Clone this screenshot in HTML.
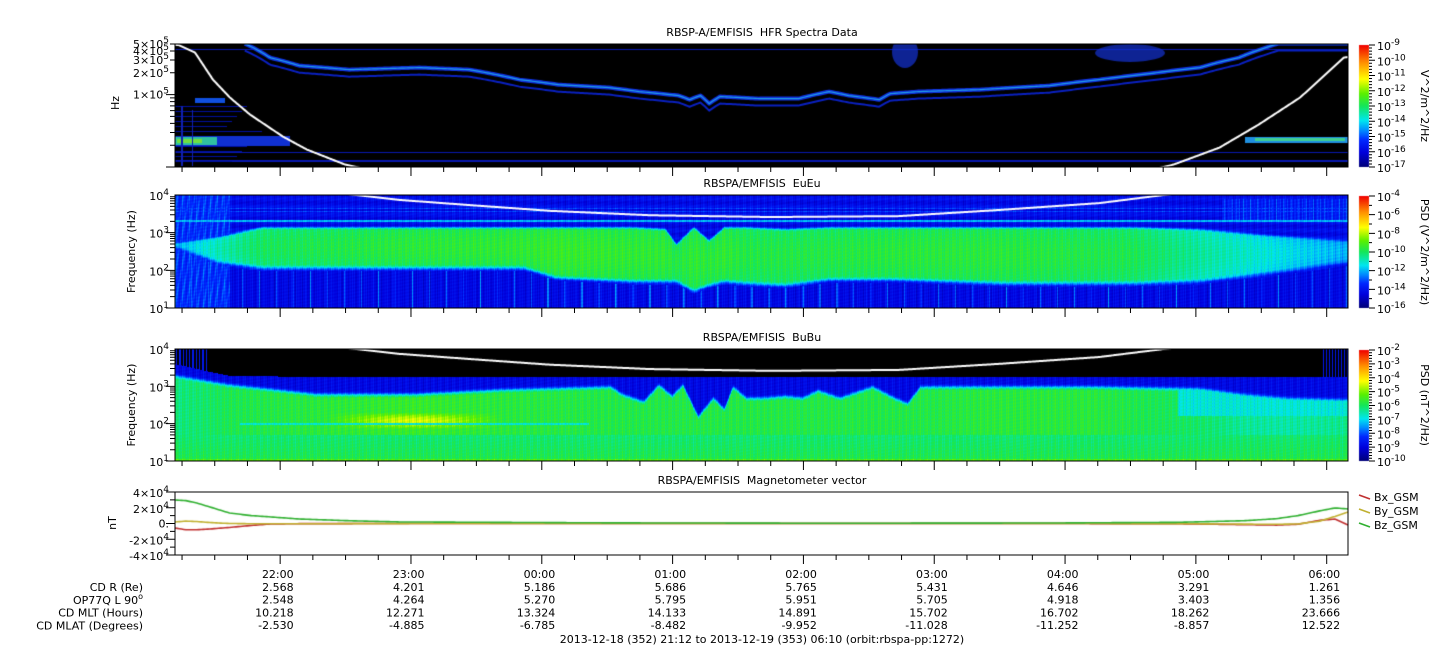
<!DOCTYPE html>
<html><head><meta charset="utf-8">
<style>
html,body{margin:0;padding:0;background:#fff;}
#wrap{position:relative;width:1447px;height:658px;overflow:hidden;font-family:"DejaVu Sans","Liberation Sans",sans-serif;}
canvas,svg{position:absolute;left:0;top:0;}
text{font-family:"DejaVu Sans","Liberation Sans",sans-serif;font-size:11px;fill:#000;white-space:pre;}
</style></head>
<body>
<div id="wrap">
<canvas id="cv" width="1447" height="658"></canvas>
<svg id="sv" width="1447" height="658" xmlns="http://www.w3.org/2000/svg"></svg>
</div>
<script>
// ---------- data ----------
const hourLabels=["22:00","23:00","00:00","01:00","02:00","03:00","04:00","05:00","06:00"];
const rowNames=["CD R (Re)","OP77Q L 90","CD MLT (Hours)","CD MLAT (Degrees)"];
const cdR=["2.568","4.201","5.186","5.686","5.765","5.431","4.646","3.291","1.261"];
const opL=["2.548","4.264","5.270","5.795","5.951","5.705","4.918","3.403","1.356"];
const cdMLT=["10.218","12.271","13.324","14.133","14.891","15.702","16.702","18.262","23.666"];
const cdMLAT=["-2.530","-4.885","-6.785","-8.482","-9.952","-11.028","-11.252","-8.857","12.522"];
// upper hybrid line (HFR): minutes since 21:12, kHz
const uhrT=[32,43.5,57,80,112,135,158,176,199,213,231,236,241,245,250,268,286,300,309,323,328,341,369,401,424,447,470,488,499,506,540];
const uhrF=[506,324,251,221,236,221,161,137,125,110,97,85,97,75,94,88,88,110,97,85,103,110,117,133,161,195,236,324,432,506,506];
// electron cyclotron frequency curve: minutes, Hz
const fceT=[0,2,9.2,17.4,25.2,34.4,49.5,60.5,78,103,135,172,218,273,332,378,424,458,479,497,516,525,536,538];
const fceF=[4.9e5,4.8e5,3.8e5,1.61e5,9.1e4,5.3e4,2.63e4,1.74e4,1.08e4,7.4e3,5.4e3,3.8e3,2.9e3,2.6e3,2.75e3,4e3,6.1e3,1.08e4,1.85e4,3.85e4,9.1e4,1.6e5,3.24e5,3.3e5];
// EuEu band edges (log10 Hz)
const euT=[0,20,40,100,160,175,210,225,230,238,245,252,262,280,300,330,380,440,470,500,538];
const euUp=[2.75,2.9,3.15,3.15,3.15,3.15,3.15,3.1,2.7,3.15,2.8,3.15,3.15,3.1,3.15,3.15,3.15,3.15,3.1,2.95,2.8];
const euLo=[2.6,2.2,2.06,2.06,2.06,1.8,1.7,1.7,1.7,1.45,1.6,1.7,1.65,1.6,1.75,1.75,1.65,1.65,1.7,1.9,2.2];
const euLev=[0.30,0.40,0.47,0.50,0.51,0.52,0.51,0.51,0.49,0.51,0.50,0.51,0.49,0.49,0.49,0.50,0.50,0.48,0.42,0.37,0.30];
// BuBu edges (log10 Hz)
const buT=[0,15,25,65,110,150,200,205,215,222,228,233,240,247,252,256,262,270,280,288,295,305,315,320,330,336,342,348,370,420,470,490,510,538];
const buTop=[3.6,3.4,3.28,3.25,3.25,3.25,3.25,3.25,3.25,3.25,3.25,3.25,3.25,3.25,3.25,3.25,3.25,3.25,3.25,3.25,3.25,3.25,3.25,3.25,3.25,3.25,3.25,3.25,3.25,3.25,3.25,3.25,3.25,3.25];
const buUp=[3.3,3.15,3.05,2.8,2.8,2.92,3.0,2.8,2.6,3.05,2.75,3.05,2.2,2.7,2.4,3.0,2.7,2.7,2.75,2.7,2.9,2.7,2.9,3.0,2.7,2.55,3.0,3.0,3.0,3.0,2.95,2.8,2.7,2.65];
const buLev=[0.47,0.49,0.51,0.53,0.55,0.53,0.52,0.52,0.52,0.52,0.52,0.52,0.52,0.52,0.52,0.52,0.52,0.52,0.52,0.52,0.52,0.52,0.52,0.52,0.52,0.52,0.52,0.52,0.53,0.53,0.49,0.45,0.44,0.46];
// magnetometer (nT)
const magT=[0,5,10,16,25,35,44,57,80,103,200,300,400,460,490,505,515,525,532,538];
const bx=[-5700,-8000,-8000,-7000,-5000,-2500,-600,-200,-100,0,0,0,0,-300,-1500,-2000,-1000,4000,5700,-2000];
const by=[2000,3000,2500,1200,0,-300,-400,-300,-200,-100,0,0,0,-200,-800,-1000,-600,3000,9000,14600];
const bz=[29800,29000,26000,21000,13300,10000,8300,5700,3500,2000,800,300,600,1500,3500,6000,10000,16000,19700,18500];
const cbar1=[-9,-10,-11,-12,-13,-14,-15,-16,-17];
const cbar2=[-4,-6,-8,-10,-12,-14,-16];
const cbar3=[-2,-3,-4,-5,-6,-7,-8,-9,-10];

// ---------- geometry ----------
const X0=175,X1=1348,TMAX=538;
const xs=t=>X0+t*(X1-X0)/TMAX;
const P1={y0:44,y1:167,l0:4,l1:Math.log10(5e5)};
const P2={y0:195,y1:308,l0:1,l1:4};
const P3={y0:349,y1:461,l0:1,l1:4};
const P4={y0:492,y1:555,v0:-4e4,v1:4e4};
const ysLog=(P,f)=>P.y1-(Math.log10(f)-P.l0)/(P.l1-P.l0)*(P.y1-P.y0);
const lfOf=(P,y)=>P.l0+(P.y1-y)/(P.y1-P.y0)*(P.l1-P.l0);
const ysMag=v=>P4.y1-(v-P4.v0)/(P4.v1-P4.v0)*(P4.y1-P4.y0);
function interp(T,V,t){if(t<=T[0])return V[0];for(let i=1;i<T.length;i++){if(t<=T[i]){const a=(t-T[i-1])/(T[i]-T[i-1]);return V[i-1]+a*(V[i]-V[i-1]);}}return V[V.length-1];}
function interpLog(T,V,t){return Math.pow(10,interp(T,V.map(v=>Math.log10(v)),t));}
const tOf=x=>(x-X0)*TMAX/(X1-X0);

const stops=[[0,0,0,120],[0.12,0,0,220],[0.22,0,40,255],[0.3,0,140,255],[0.38,0,230,240],[0.5,20,230,90],[0.6,90,240,0],[0.72,255,255,0],[0.86,255,140,0],[1,240,0,0]];
function cmap(v){if(v<0)return[0,0,0];v=Math.max(0,Math.min(1,v));for(let i=1;i<stops.length;i++){if(v<=stops[i][0]){const a=(v-stops[i-1][0])/(stops[i][0]-stops[i-1][0]);return[0,1,2].map(k=>Math.round(stops[i-1][k+1]+a*(stops[i][k+1]-stops[i-1][k+1])));}}return[240,0,0];}
const tex=(x,y)=>0.025*Math.sin(x*2.7)+0.02*Math.sin(x*0.93+1)+0.012*Math.sin(y*1.9+x*0.3);

const cv=document.getElementById('cv');const ctx=cv.getContext('2d');
function heat(P,fn){const w=X1-X0,h=P.y1-P.y0;const img=ctx.createImageData(w,h);for(let x=0;x<w;x++){const t=tOf(X0+x+0.5);for(let y=0;y<h;y++){const lf=lfOf(P,P.y0+y+0.5);const c=cmap(fn(t,lf,X0+x,P.y0+y));const i=(y*w+x)*4;img.data[i]=c[0];img.data[i+1]=c[1];img.data[i+2]=c[2];img.data[i+3]=255;}}ctx.putImageData(img,X0,P.y0);}
const sm=(e0,e1,v)=>{const a=Math.max(0,Math.min(1,(v-e0)/(e1-e0)));return a*a*(3-2*a);};

// Panel 2 EuEu
heat(P2,(t,lf,x,y)=>{const up=interp(euT,euUp,t),lo=interp(euT,euLo,t),lev=interp(euT,euLev,t);
 let v=0.15+0.02*Math.sin(y*0.8);
 if(Math.abs(lf-3.3)<0.03)v=0.34;
 if(Math.abs(lf-3.55)<0.012||Math.abs(lf-3.65)<0.012)v=0.24;
 const inB=sm(lo-0.1,lo+0.1,lf)*(1-sm(up-0.08,up+0.05,lf));
 const core=lev+0.03*Math.sin((lf-lo)/(up-lo+0.01)*Math.PI);
 v=v*(1-inB)+core*inB;
 if(lf<lo-0.08)v=0.13+0.03*Math.max(0,Math.sin(x*1.3))+(Math.sin(x*0.37)>0.97?0.12:0);
 if(t<25)v=Math.max(v,0.2+0.06*Math.max(0,Math.sin(x*1.1+y*0.2)));
 if(t>480&&lf>3.3&&lf<3.9)v=Math.max(v,0.17+0.08*Math.max(0,Math.sin(x*1.7)));
 return v+tex(x,y);});
// Panel 3 BuBu
heat(P3,(t,lf,x,y)=>{const top=interp(buT,buTop,t),up=interp(buT,buUp,t),lev=interp(buT,buLev,t);
 if(lf>top){if(t<15&&Math.sin(x*1.9)>0.3)return 0.18;if(t>490&&Math.sin(x*2.1)>0.9)return 0.17;return -1;}
 let v;const b=sm(up-0.12,up+0.08,lf);
 v=lev*(1-b)+0.14*b;
 if(lf<up-0.1){ if(t>70&&t<150&&lf>1.85&&lf<2.3)v+=0.14*Math.sin((lf-1.85)/0.45*Math.PI)*Math.sin((t-70)/80*Math.PI);
   if(t>30&&t<190&&Math.abs(lf-2.0)<0.03)v=0.4;
   if(lf<1.7)v=0.48+0.05*(1.7-lf);
   if(lf<1.06)v=0.58;}
 if(t>460&&lf>2.2&&lf<up)v=Math.min(v,0.4+0.1*sm(2.2,2.0,lf));
 return v+tex(x,y);});
// Panel 1 HFR
ctx.fillStyle='#000';ctx.fillRect(X0,P1.y0,X1-X0,P1.y1-P1.y0);
ctx.save();ctx.beginPath();ctx.rect(X0,P1.y0,X1-X0,P1.y1-P1.y0);ctx.clip();
ctx.fillStyle='#0818b0';ctx.fillRect(X0,49,X1-X0,1);ctx.fillRect(X0,152,X1-X0,1);ctx.fillRect(X0,160,X1-X0,2);
ctx.fillStyle='#0010a0';for(let y=106;y<165;y+=5){ctx.fillRect(X0,y,50+((y*7)%40),1);}
ctx.fillStyle='#1030d0';ctx.fillRect(X0,136,115,10);ctx.fillStyle='#30c0a0';ctx.fillRect(X0,137,42,8);ctx.fillStyle='#70e040';ctx.fillRect(X0+2,139,25,4);
ctx.fillStyle='#1050e0';ctx.fillRect(X0+20,98,30,5);ctx.fillStyle='#2090e0';ctx.fillRect(1245,137,103,6);ctx.fillStyle='#40d090';ctx.fillRect(1255,138,90,3);
ctx.fillStyle='#1020b0';ctx.fillRect(X0+6,106,2,60);ctx.fillRect(X0+17,110,1,56);
function uhrPath(dy){ctx.beginPath();for(let t=uhrT[0];t<=TMAX;t+=1){const x=xs(t),y=ysLog(P1,interp(uhrT,uhrF,t)*1000)+dy;t===uhrT[0]?ctx.moveTo(x,y):ctx.lineTo(x,y);}ctx.stroke();}
ctx.lineJoin='round';
ctx.strokeStyle='#0a20c0';ctx.lineWidth=2;uhrPath(7);
ctx.strokeStyle='#1030e0';ctx.lineWidth=4;uhrPath(0);
ctx.strokeStyle='#20a0e0';ctx.lineWidth=1.2;uhrPath(0);
ctx.fillStyle='rgba(20,50,210,0.7)';ctx.beginPath();ctx.ellipse(905,52,13,16,0,0,Math.PI*2);ctx.fill();ctx.beginPath();ctx.ellipse(1130,53,35,9,0,0,Math.PI*2);ctx.fill();
ctx.restore();
// fce curve in panels 1-3
function fcePath(P){ctx.save();ctx.beginPath();ctx.rect(X0,P.y0,X1-X0,P.y1-P.y0);ctx.clip();ctx.strokeStyle='#fff';ctx.lineWidth=2;ctx.beginPath();for(let t=0;t<=TMAX;t+=0.5){const x=xs(t),y=ysLog(P,interpLog(fceT,fceF,t));t===0?ctx.moveTo(x,y):ctx.lineTo(x,y);}ctx.stroke();ctx.restore();}
fcePath(P1);fcePath(P2);fcePath(P3);
// colorbars
function cbar(y0,y1){const g=ctx.createLinearGradient(0,y1,0,y0);stops.forEach(s=>{const c=cmap(s[0]);g.addColorStop(s[0],`rgb(${c})`);});ctx.fillStyle=g;ctx.fillRect(1359,y0,10,y1-y0);}
cbar(45,167);cbar(196,308);cbar(350,461);
// magnetometer
function magLine(arr,col){ctx.strokeStyle=col;ctx.lineWidth=1.6;ctx.beginPath();for(let t=0;t<=TMAX;t+=1){const x=xs(t),y=ysMag(interp(magT,arr,t));t===0?ctx.moveTo(x,y):ctx.lineTo(x,y);}ctx.stroke();}
magLine(bx,'#c03030');magLine(by,'#c0b030');magLine(bz,'#30b030');

// ---------- SVG ----------
const sv=document.getElementById('sv');const NS='http://www.w3.org/2000/svg';
function el(tag,at,txt){const e=document.createElementNS(NS,tag);for(const k in at)e.setAttribute(k,at[k]);if(txt!==undefined)e.textContent=txt;sv.appendChild(e);return e;}
function txt(x,y,s,anchor,name,rot){const e=el('text',{x:x,y:y,'text-anchor':anchor||'middle'},s);if(rot)e.setAttribute('transform',`rotate(${rot} ${x} ${y})`);return e;}
function pow(x,y,mant,exp,name){const e=el('text',{x:x,y:y,'text-anchor':'end'});e.innerHTML=`${mant}<tspan dy="-5" font-size="9">${exp}</tspan>`;return e;}
function powL(x,y,exp,name){const e=el('text',{x:x,y:y,'text-anchor':'start'});e.innerHTML=`10<tspan dy="-5" font-size="9">${exp}</tspan>`;return e;}
let tickPath='';
function frame(y0,y1,name){const r=el('rect',{x:X0,y:y0,width:X1-X0,height:y1-y0,fill:'none',stroke:'#000','stroke-width':1});
 for(let m=3;m<=TMAX;m+=15){const x=xs(m)+0.5;const major=(m-48)%60===0;tickPath+=`M${x} ${y1}v${major?9:5}`;}}
frame(P1.y0,P1.y1,'hfr-panel-frame');frame(P2.y0,P2.y1,'eueu-panel-frame');frame(P3.y0,P3.y1,'bubu-panel-frame');frame(P4.y0,P4.y1,'mag-panel-frame');
function logTicks(P,minD,maxD){for(let d=minD;d<=maxD;d++){for(let k=1;k<10;k++){const f=k*Math.pow(10,d);const lf=Math.log10(f);if(lf<P.l0-1e-6||lf>P.l1+1e-6)continue;const y=ysLog(P,f);tickPath+=`M${X0} ${y}h${k===1?-9:-5}`;}}}
logTicks(P1,4,5);logTicks(P2,1,3);logTicks(P3,1,3);
for(let v=-4e4;v<=4e4;v+=1e4){tickPath+=`M${X0} ${ysMag(v)}h${v%2e4===0?-9:-5}`;}
function cbTicks(y0,y1,n,minor){for(let i=0;i<n;i++){const y=y0+(y1-y0)*i/(n-1);tickPath+=`M1369 ${y}h6`;if(i<n-1)for(let k=1;k<minor;k++){tickPath+=`M1369 ${y+(y1-y0)/(n-1)*k/minor}h3`;}}}
cbTicks(45,167,cbar1.length,5);cbTicks(196,308,cbar2.length,2);cbTicks(350,461,cbar3.length,5);
const tp=el('path',{d:tickPath,stroke:'#000','stroke-width':1,fill:'none'});
txt(762,36,'RBSP-A/EMFISIS  HFR Spectra Data','middle','hfr-title');
txt(762,187,'RBSPA/EMFISIS  EuEu','middle','eueu-title');
txt(762,341,'RBSPA/EMFISIS  BuBu','middle','bubu-title');
txt(762,484,'RBSPA/EMFISIS  Magnetometer vector','middle','mag-title');
[[5,5],[4,5],[3,5],[2,5],[1,5]].forEach(([m,e])=>{pow(169,ysLog(P1,m*1e5)+4,m+'\u00d710',e,'hfr-y-tick-label');});
txt(119,103,'Hz','middle','hfr-y-title',-90);
[P2,P3].forEach((P,i)=>{for(let d=1;d<=4;d++)pow(169,ysLog(P,Math.pow(10,d))+5,'10',d,i?'bubu-y-tick-label':'eueu-y-tick-label');txt(135,(P.y0+P.y1)/2,'Frequency (Hz)','middle',i?'bubu-y-title':'eueu-y-title',-90);});
[[4e4,'4\u00d710','4'],[2e4,'2\u00d710','4'],[-2e4,'-2\u00d710','4'],[-4e4,'-4\u00d710','4']].forEach(([v,m,e])=>pow(169,ysMag(v)+5,m,e,'mag-y-tick-label'));
txt(169,ysMag(0)+4,'0.','end','mag-y-tick-label');
txt(116,523,'nT','middle','mag-y-title',-90);
cbar1.forEach((e,i)=>powL(1377,45+122*i/(cbar1.length-1)+5,e,'hfr-colorbar-label'));
cbar2.forEach((e,i)=>powL(1377,196+112*i/(cbar2.length-1)+5,e,'eueu-colorbar-label'));
cbar3.forEach((e,i)=>powL(1377,350+111*i/(cbar3.length-1)+5,e,'bubu-colorbar-label'));
txt(1421,106,'V^2/m^2/Hz','middle','hfr-colorbar-title',90);
txt(1421,252,'PSD (V^2/m^2/Hz)','middle','eueu-colorbar-title',90);
txt(1421,405,'PSD (nT^2/Hz)','middle','bubu-colorbar-title',90);
[['Bx_GSM','#c03030'],['By_GSM','#c0b030'],['Bz_GSM','#30b030']].forEach(([n,c],i)=>{const y=499+14*i;const l=el('path',{d:`M1359 ${y-4}l11 4`,stroke:c,'stroke-width':1.6});txt(1374,y+2,n,'start','legend-entry-'+n.toLowerCase());});
const rows=[hourLabels,cdR,opL,cdMLT,cdMLAT];
rows.forEach((r,ri)=>{r.forEach((s,i)=>{txt(xs(48+60*i)+14,578+12.8*ri,s,'end',ri?'ephemeris-value':'time-tick-label');});});
rowNames.forEach((n,i)=>{const e=txt(143,591+12.8*i,n,'end','ephemeris-row-label');if(i===1)e.innerHTML='OP77Q L 90<tspan dy="-5" font-size="8">o</tspan>';});
txt(762,643,'2013-12-18 (352) 21:12 to 2013-12-19 (353) 06:10 (orbit:rbspa-pp:1272)','middle','time-range-label');
</script>
</body></html>
